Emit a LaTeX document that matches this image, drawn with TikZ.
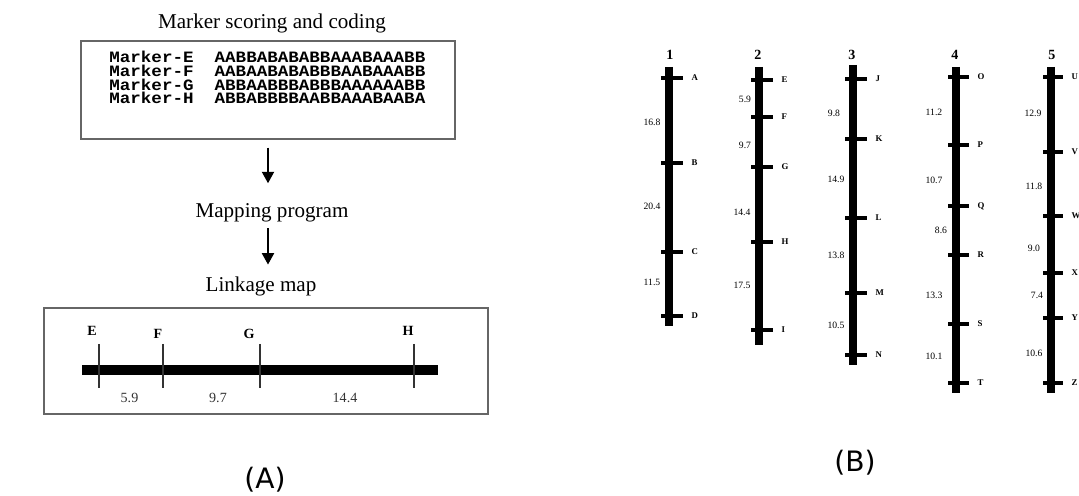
\documentclass[tikz,border=0pt]{standalone}
\usepackage{fontspec}
\setmainfont{Liberation Serif}
\newfontfamily\codefont[FakeStretch=1.11]{Liberation Mono}
\newfontfamily\tagfont{DejaVu Sans}
\usetikzlibrary{arrows.meta,positioning}

\tikzset{
  panelbox/.style={draw=black!60, line width=0.8pt, inner sep=0pt},
  caption/.style={font=\fontsize{12}{14}\selectfont, inner sep=0pt, anchor=base},
  coderow/.style={font=\codefont\bfseries\fontsize{9}{10}\selectfont, inner sep=0pt, anchor=base west},
  flow/.style={-{Triangle[length=6.5pt,width=7pt]}, line width=0.7pt},
  lgbar/.style={line width=5.6pt},
  lgtick/.style={line width=0.8pt, black!80},
  lglabel/.style={font=\bfseries\fontsize{8}{9}\selectfont, inner sep=0pt},
  lgdist/.style={font=\fontsize{8}{9}\selectfont, inner sep=0pt, black!80},
  chrbar/.style={line width=4pt},
  chrtick/.style={line width=2.3pt},
  chrnum/.style={font=\bfseries\fontsize{8}{9}\selectfont, inner sep=0pt},
  locus/.style={font=\bfseries\fontsize{5}{6}\selectfont, inner sep=0pt, anchor=west, xshift=0.13cm},
  dist/.style={font=\fontsize{5.5}{6}\selectfont, inner sep=0pt},
  paneltag/.style={font=\tagfont\fontsize{16}{18}\selectfont, inner sep=0pt}
}

\begin{document}
\begin{tikzpicture}[x=0.02cm, y=-0.02cm]
  \useasboundingbox (0,0) rectangle (1079,496);

  % (A) scoring -> program -> map
  \node[caption] (title) at (272,29) {Marker scoring and coding};
  \node[panelbox, minimum width=7.48cm, minimum height=1.96cm] (scoring) at (268,90) {};
  \node[coderow] (rowE) at (109,63) {Marker-E\ \ AABBABABABBAAABAAABB};
  \node[coderow] (rowF) at (109,76.7) {Marker-F\ \ AABAABABABBBAABAAABB};
  \node[coderow] (rowG) at (109,90.3) {Marker-G\ \ ABBAABBBABBBAAAAAABB};
  \node[coderow] (rowH) at (109,104) {Marker-H\ \ ABBABBBBAABBAAABAABA};

  \node[caption] (mapping) at (272,218) {Mapping program};
  \node[caption] (linkage) at (261,292) {Linkage map};
  \draw[flow, shorten <=0.16cm, shorten >=0.41cm] (scoring.south) -- (scoring.south |- mapping.north);
  \draw[flow, shorten <=0.11cm, shorten >=0.25cm] (scoring.south |- mapping.south) -- (scoring.south |- linkage.north);

  \node[panelbox, minimum width=8.88cm, minimum height=2.12cm] (mapbox) at (266,361) {};
  \draw[lgbar] (82,370) -- (438,370);
  \draw[lgtick] (99,344) -- (99,388);
  \draw[lgtick] (163,344) -- (163,388);
  \draw[lgtick] (260,344) -- (260,388);
  \draw[lgtick] (414,344) -- (414,388);
  \node[lglabel] (lE) at (92,331) {E};
  \node[lglabel] (lF) at (158,334) {F};
  \node[lglabel] (lG) at (249,334) {G};
  \node[lglabel] (lH) at (408,331) {H};
  \node[lgdist] (dEF) at (129.5,398) {5.9};
  \node[lgdist] (dFG) at (218,398) {9.7};
  \node[lgdist] (dGH) at (345,398) {14.4};

  \node[paneltag] (tagA) at (265,480) {(A)};

  % (B) chromosome 1
  \node[chrnum] (n1) at (670,55) {1};
  \draw[chrbar] (669,67) -- (669,326);
  \draw[chrtick] (661,78) -- (683,78) node[locus] (cA) {A};
  \draw[chrtick] (661,163) -- (683,163) node[locus] (cB) {B};
  \draw[chrtick] (661,252) -- (683,252) node[locus] (cC) {C};
  \draw[chrtick] (661,316) -- (683,316) node[locus] (cD) {D};
  \node[dist] (d1a) at (652,122) {16.8};
  \node[dist] (d1b) at (652,206) {20.4};
  \node[dist] (d1c) at (652,282) {11.5};

  % chromosome 2
  \node[chrnum] (n2) at (758,55) {2};
  \draw[chrbar] (759,67) -- (759,345);
  \draw[chrtick] (751,80) -- (773,80) node[locus] (cE) {E};
  \draw[chrtick] (751,117) -- (773,117) node[locus] (cF) {F};
  \draw[chrtick] (751,167) -- (773,167) node[locus] (cG) {G};
  \draw[chrtick] (751,242) -- (773,242) node[locus] (cH) {H};
  \draw[chrtick] (751,330) -- (773,330) node[locus] (cI) {I};
  \node[dist] (d2a) at (745,99) {5.9};
  \node[dist] (d2b) at (745,145) {9.7};
  \node[dist] (d2c) at (742,212) {14.4};
  \node[dist] (d2d) at (742,285) {17.5};

  % chromosome 3
  \node[chrnum] (n3) at (852,55) {3};
  \draw[chrbar] (853,65) -- (853,365);
  \draw[chrtick] (845,79) -- (867,79) node[locus] (cJ) {J};
  \draw[chrtick] (845,139) -- (867,139) node[locus] (cK) {K};
  \draw[chrtick] (845,218) -- (867,218) node[locus] (cL) {L};
  \draw[chrtick] (845,293) -- (867,293) node[locus] (cM) {M};
  \draw[chrtick] (845,355) -- (867,355) node[locus] (cN) {N};
  \node[dist] (d3a) at (834,113) {9.8};
  \node[dist] (d3b) at (836,179) {14.9};
  \node[dist] (d3c) at (836,255) {13.8};
  \node[dist] (d3d) at (836,325) {10.5};

  % chromosome 4
  \node[chrnum] (n4) at (955,55) {4};
  \draw[chrbar] (956,67) -- (956,393);
  \draw[chrtick] (948,77) -- (969,77) node[locus] (cO) {O};
  \draw[chrtick] (948,145) -- (969,145) node[locus] (cP) {P};
  \draw[chrtick] (948,206) -- (969,206) node[locus] (cQ) {Q};
  \draw[chrtick] (948,255) -- (969,255) node[locus] (cR) {R};
  \draw[chrtick] (948,324) -- (969,324) node[locus] (cS) {S};
  \draw[chrtick] (948,383) -- (969,383) node[locus] (cT) {T};
  \node[dist] (d4a) at (934,112) {11.2};
  \node[dist] (d4b) at (934,180) {10.7};
  \node[dist] (d4c) at (941,230) {8.6};
  \node[dist] (d4d) at (934,295) {13.3};
  \node[dist] (d4e) at (934,356) {10.1};

  % chromosome 5
  \node[chrnum] (n5) at (1052,55) {5};
  \draw[chrbar] (1051,67) -- (1051,393);
  \draw[chrtick] (1043,77) -- (1063,77) node[locus] (cU) {U};
  \draw[chrtick] (1043,152) -- (1063,152) node[locus] (cV) {V};
  \draw[chrtick] (1043,216) -- (1063,216) node[locus] (cW) {W};
  \draw[chrtick] (1043,273) -- (1063,273) node[locus] (cX) {X};
  \draw[chrtick] (1043,318) -- (1063,318) node[locus] (cY) {Y};
  \draw[chrtick] (1043,383) -- (1063,383) node[locus] (cZ) {Z};
  \node[dist] (d5a) at (1033,113) {12.9};
  \node[dist] (d5b) at (1034,186) {11.8};
  \node[dist] (d5c) at (1034,248) {9.0};
  \node[dist] (d5d) at (1037,295) {7.4};
  \node[dist] (d5e) at (1034,353) {10.6};

  \node[paneltag] (tagB) at (855,463) {(B)};
\end{tikzpicture}
\end{document}
